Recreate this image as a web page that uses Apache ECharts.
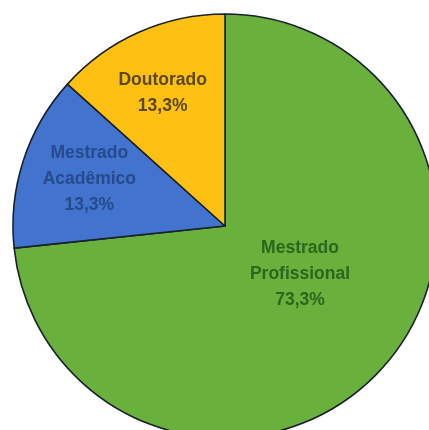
<!DOCTYPE html>
<html>
<head>
<meta charset="utf-8">
<script src="https://cdn.jsdelivr.net/npm/echarts@6/dist/echarts.min.js"></script>
<style>
html,body{margin:0;padding:0;background:#ffffff;}
#chart{width:429px;height:430px;}
</style>
</head>
<body>
<div id="chart"></div>
<script>
const categories = ['Mestrado\nProfissional', 'Mestrado\nAcadêmico', 'Doutorado'];
const values = [11, 2, 2];
const percentLabels = ['73,3%', '13,3%', '13,3%'];

const sliceColors = ['#6aB03c', '#4274cf', '#fec012'];
const textColors = ['#2c661d', '#264a8c', '#5a480e'];
const labelOffsets = [[-6, -25], [-32, -13], [-18, -33]];

const chart = echarts.init(document.getElementById('chart'), null, {renderer: 'canvas'});
chart.setOption({
  backgroundColor: '#ffffff',
  animation: false,
  series: [{
    type: 'pie',
    center: [225, 226],
    radius: 212,
    startAngle: 90,
    clockwise: true,
    avoidLabelOverlap: false,
    itemStyle: {borderColor: '#1a212c', borderWidth: 1.6},
    emphasis: {disabled: true},
    label: {
      show: true,
      position: 'inside',
      fontFamily: 'Liberation Sans, Arial, sans-serif',
      fontWeight: 'bold',
      fontSize: 17.5,
      lineHeight: 26,
      align: 'center'
    },
    labelLine: {show: false},
    data: categories.map((name, i) => ({
      name: name,
      value: values[i],
      itemStyle: {color: sliceColors[i]},
      label: {
        formatter: name + '\n' + percentLabels[i],
        color: textColors[i],
        offset: labelOffsets[i]
      }
    }))
  }]
});
</script>
</body>
</html>
